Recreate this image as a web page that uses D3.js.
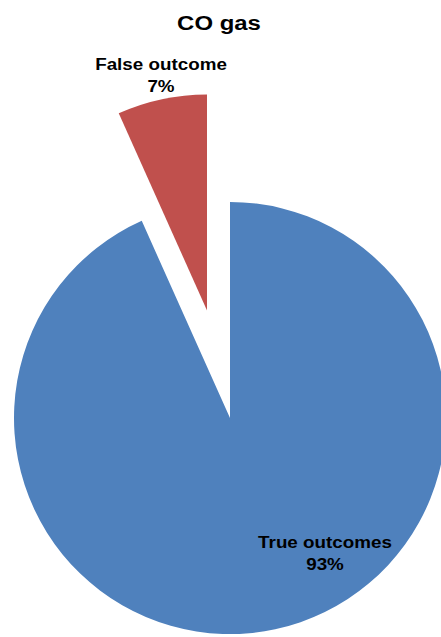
<!DOCTYPE html>
<html><head><meta charset="utf-8">
<script src="https://cdn.jsdelivr.net/npm/d3@7/dist/d3.min.js"></script>
<style>body{margin:0;background:#fff;}svg{display:block;}</style>
</head><body>
<script>
const categories = ["True outcomes", "False outcome"];
const values = [93.3, 6.7];
const colors = ["#4F81BD", "#C0504D"];
const title = "CO gas";

const W = 441, H = 637;
const cx = 230, cy = 418, R = 216;
const explode = [0, 110];
const stretch = 1.14;

const svg = d3.select("body").append("svg").attr("width", W).attr("height", H);
const pie = d3.pie().sort(null).value(d => d)(values);
const arc = d3.arc().innerRadius(0).outerRadius(R);

const g = svg.append("g").attr("transform", `translate(${cx},${cy})`);
g.selectAll("path").data(pie).enter().append("path")
  .attr("d", arc)
  .attr("fill", (d, i) => colors[i])
  .attr("transform", (d, i) => {
    const a = (d.startAngle + d.endAngle) / 2;
    return `translate(${Math.sin(a) * explode[i]},${-Math.cos(a) * explode[i]})`;
  });

const font = "Liberation Sans, Arial, sans-serif";
svg.append("g").attr("transform", `translate(219,30) scale(${stretch},1)`)
  .append("text").attr("text-anchor", "middle")
  .attr("font-family", font).attr("font-weight", "bold")
  .attr("font-size", 21).text(title);

const labelPos = [[325, 548], [161, 70]];
categories.forEach((c, i) => {
  const t = svg.append("g")
    .attr("transform", `translate(${labelPos[i][0]},${labelPos[i][1]}) scale(${stretch},1)`)
    .append("text").attr("text-anchor", "middle")
    .attr("font-family", font).attr("font-weight", "bold")
    .attr("font-size", 16.5).attr("fill", "#000");
  t.append("tspan").attr("x", 0).attr("y", 0).text(c);
  t.append("tspan").attr("x", 0).attr("y", 22.5).text(Math.round(values[i]) + "%");
});
</script>
</body></html>
